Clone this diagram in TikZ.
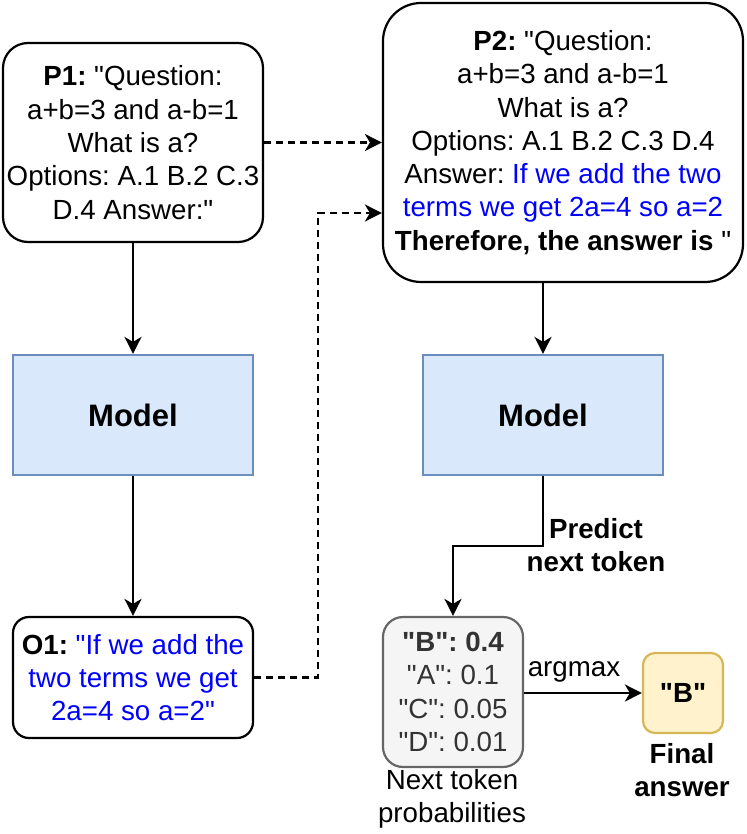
\documentclass[tikz,border=0pt]{standalone}
\usepackage{fontspec}
\setmainfont{Liberation Sans}[Ligatures=TeXOff]
\usetikzlibrary{arrows.meta}
\frenchspacing
\definecolor{bluefill}{HTML}{DAE8FC}
\definecolor{bluestroke}{HTML}{6C8EBF}
\definecolor{greyfill}{HTML}{F5F5F5}
\definecolor{greystroke}{HTML}{666666}
\definecolor{greytext}{HTML}{333333}
\definecolor{yelfill}{HTML}{FFF2CC}
\definecolor{yelstroke}{HTML}{D6B656}
\definecolor{ansblue}{HTML}{0000FF}
\newcommand{\basefont}{\fontsize{27.7pt}{33.3pt}\selectfont}
\newcommand{\qq}{\symbol{34}}
\tikzset{
  box/.style={draw, line width=2.2pt, inner sep=0pt, align=center, font=\basefont},
  modelbox/.style={box, draw=bluestroke, fill=bluefill, minimum width=240pt, minimum height=120pt, font=\fontsize{31pt}{37pt}\selectfont\bfseries},
  lbl/.style={inner sep=0pt, align=center, font=\basefont},
  conn/.style={line width=2.2pt, -{Stealth[length=17pt,width=17pt,inset=5pt]}},
  dconn/.style={conn, dash pattern=on 7pt off 5pt},
}
\begin{document}
\begin{tikzpicture}[x=1pt,y=-1pt]
\useasboundingbox (0,0) rectangle (746,834);
\node[box, rounded corners=25pt, minimum width=260pt, minimum height=199pt] (P1) at (133,142.5)
  {\textbf{P1:} \qq Question:\\a+b=3 and a-b=1\\What is a?\\Options: A.1 B.2 C.3\\D.4 Answer:\qq};
\node[box, rounded corners=38pt, minimum width=360pt, minimum height=279pt] (P2) at (563,142.5)
  {\textbf{P2:} \qq Question:\\a+b=3 and a-b=1\\What is a?\\Options: A.1 B.2 C.3 D.4\\Answer: \textcolor{ansblue}{If we add the two}\\\textcolor{ansblue}{terms we get 2a=4 so a=2}\\\textbf{Therefore, the answer is} \qq};
\node[modelbox] (M1) at (133,415) {Model};
\node[modelbox] (M2) at (543,415) {Model};
\node[box, rounded corners=16pt, minimum width=240pt, minimum height=121pt] (O1) at (133,677.5)
  {\textbf{O1:} \textcolor{ansblue}{\qq If we add the}\\\textcolor{ansblue}{two terms we get}\\\textcolor{ansblue}{2a=4 so a=2\qq}};
\node[box, rounded corners=20pt, draw=greystroke, fill=greyfill, text=greytext, minimum width=140pt, minimum height=150pt] (PR) at (453,692)
  {\textbf{\qq B\qq: 0.4}\\\qq A\qq: 0.1\\\qq C\qq: 0.05\\\qq D\qq: 0.01};
\node[box, rounded corners=12pt, draw=yelstroke, fill=yelfill, minimum width=80pt, minimum height=80pt, font=\basefont\bfseries] (B) at (683,693) {\qq B\qq};
\node[lbl, font=\basefont\bfseries] (FA) at (682,770) {Final\\answer};
\node[lbl] (NT) at (452,799) {Next token\\probabilities};
\node[lbl, font=\basefont\bfseries] (PN) at (596,545) {Predict\\next token};
\node[lbl] (AM) at (574,672) {argmax};
\coordinate (c1) at (318,213);
\coordinate (e2) at (543,546);
\draw[conn] (P1.south) -- (M1.north);
\draw[conn] (M1.south) -- (O1.north);
\draw[dconn] (P1.east) -- (P1.east -| P2.west);
\draw[dconn] (O1.east) -| (c1) -- (c1 -| P2.west);
\draw[conn] (P2.south -| M2.north) -- (M2.north);
\draw[conn] (M2.south) -- (e2) -| (PR.north);
\draw[conn] (PR.east |- B.west) -- (B.west);
\end{tikzpicture}
\end{document}
